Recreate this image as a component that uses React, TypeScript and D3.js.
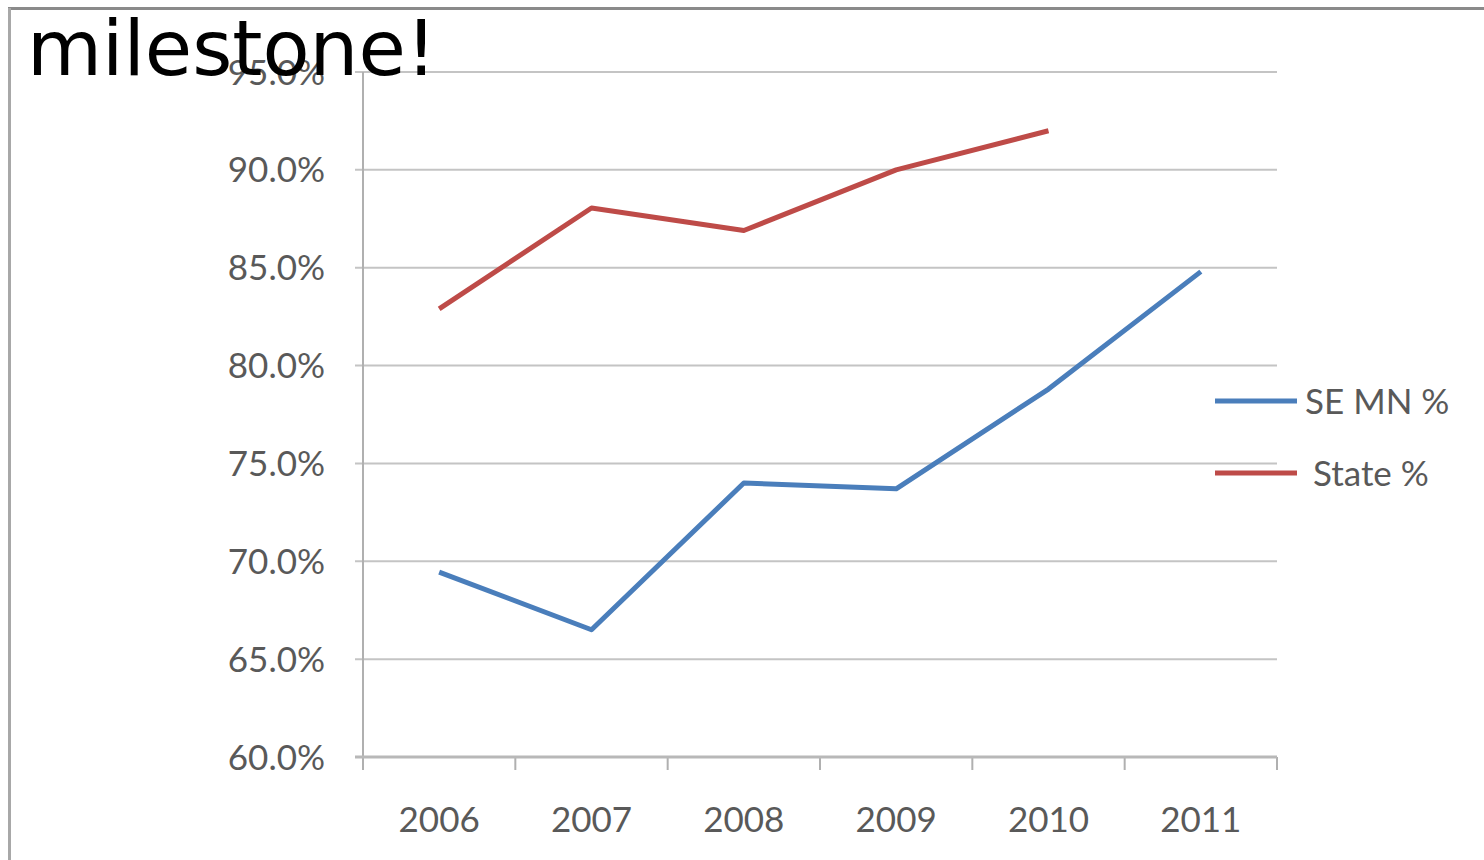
import React from "react";
import * as d3 from "d3";

const years = ["2006", "2007", "2008", "2009", "2010", "2011"];
const seMN: (number | null)[] = [69.45, 66.5, 74.0, 73.7, 78.8, 84.8];
const state: (number | null)[] = [82.9, 88.05, 86.9, 90.0, 92.0, null];
const yTicks = [60, 65, 70, 75, 80, 85, 90, 95];
const seriesNames = ["SE MN %", "State %"];
const seriesColors = ["#4A7EBB", "#BE4B48"];
const titleText = "milestone!";

const W = 1484;
const H = 860;
const plot = { left: 363, right: 1277, top: 72, bottom: 757 };

export default function App() {
  const x = d3.scaleBand<string>().domain(years).range([plot.left, plot.right]);
  const y = d3.scaleLinear().domain([60, 95]).range([plot.bottom, plot.top]);
  const cx = (d: string) => (x(d) as number) + x.bandwidth() / 2;

  const line = d3
    .line<number | null>()
    .defined((d) => d != null)
    .x((_, i) => cx(years[i]))
    .y((d) => y(d as number));

  const series = [seMN, state];
  const tickFont = "Lato, 'Open Sans', sans-serif";
  const xTickPos = [...years.map((d) => x(d) as number), plot.right];

  return (
    <svg
      width={W}
      height={H}
      style={{ position: "absolute", left: 0, top: 0, background: "#fff" }}
    >
      <rect x={0} y={0} width={W} height={H} fill="#fff" />
      {/* outer frame (top & left visible) */}
      <line x1={8} x2={W} y1={8.5} y2={8.5} stroke="#8a8a8a" strokeWidth={3} />
      <line x1={9.5} x2={9.5} y1={8} y2={H} stroke="#a8a8a8" strokeWidth={3} />

      {/* gridlines */}
      {yTicks.map((t) => (
        <line
          key={"g" + t}
          x1={plot.left - 8}
          x2={plot.right}
          y1={y(t)}
          y2={y(t)}
          stroke="#c4c4c4"
          strokeWidth={2}
        />
      ))}
      {/* y axis */}
      <line
        x1={plot.left}
        x2={plot.left}
        y1={plot.top}
        y2={plot.bottom + 13}
        stroke="#b0b0b0"
        strokeWidth={2}
      />
      {/* x axis ticks */}
      {xTickPos.map((p, i) => (
        <line
          key={"xt" + i}
          x1={p}
          x2={p}
          y1={plot.bottom}
          y2={plot.bottom + 13}
          stroke="#b0b0b0"
          strokeWidth={2}
        />
      ))}
      <line
        x1={plot.left - 8}
        x2={plot.right}
        y1={plot.bottom}
        y2={plot.bottom}
        stroke="#b8b8b8"
        strokeWidth={3}
      />

      {/* y tick labels */}
      {yTicks.map((t) => (
        <text
          key={"yl" + t}
          x={325}
          y={y(t)}
          dy="0.36em"
          textAnchor="end"
          fontFamily={tickFont}
          fontSize={35}
          fill="#595959"
        >
          {t.toFixed(1) + "%"}
        </text>
      ))}
      {/* x tick labels */}
      {years.map((d) => (
        <text
          key={"xl" + d}
          x={cx(d)}
          y={832}
          textAnchor="middle"
          fontFamily={tickFont}
          fontSize={35}
          fill="#595959"
        >
          {d}
        </text>
      ))}

      {/* series lines */}
      {series.map((s, i) => (
        <path
          key={"s" + i}
          d={line(s) || ""}
          fill="none"
          stroke={seriesColors[i]}
          strokeWidth={5}
          strokeLinejoin="round"
        />
      ))}

      {/* legend */}
      {seriesNames.map((n, i) => (
        <g key={"lg" + i} transform={`translate(1215, ${401 + i * 72})`}>
          <line x1={0} x2={82} y1={0} y2={0} stroke={seriesColors[i]} strokeWidth={5} />
          <text
            x={i === 0 ? 90 : 98}
            y={0}
            dy="0.36em"
            fontFamily={tickFont}
            fontSize={35}
            fill="#595959"
          >
            {n}
          </text>
        </g>
      ))}

      {/* title */}
      <text
        x={27}
        y={75}
        fontFamily="'DejaVu Sans', sans-serif"
        fontSize={77}
        fill="#000"
      >
        {titleText}
      </text>
    </svg>
  );
}
